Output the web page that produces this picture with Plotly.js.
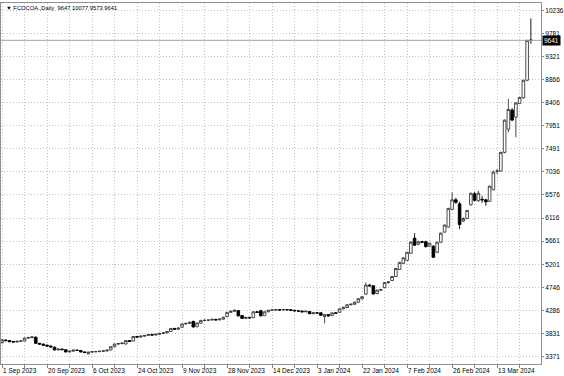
<!DOCTYPE html>
<html><head><meta charset="utf-8">
<script src="https://cdn.plot.ly/plotly-3.0.1.min.js"></script>
<style>html,body{margin:0;padding:0;background:#fff}#chart{width:564px;height:376px}</style>
</head><body><div id="chart"></div>
<script>
const dates = [
"2023-09-01","2023-09-05","2023-09-06","2023-09-07","2023-09-08","2023-09-11","2023-09-12","2023-09-13","2023-09-14","2023-09-15",
"2023-09-18","2023-09-19","2023-09-20","2023-09-21","2023-09-22","2023-09-25","2023-09-26","2023-09-27","2023-09-28","2023-09-29",
"2023-10-02","2023-10-03","2023-10-04","2023-10-05","2023-10-06","2023-10-09","2023-10-10","2023-10-11","2023-10-12","2023-10-13",
"2023-10-16","2023-10-17","2023-10-18","2023-10-19","2023-10-20","2023-10-23","2023-10-24","2023-10-25","2023-10-26","2023-10-27",
"2023-10-30","2023-10-31","2023-11-01","2023-11-02","2023-11-03","2023-11-06","2023-11-07","2023-11-08","2023-11-09","2023-11-10",
"2023-11-13","2023-11-14","2023-11-15","2023-11-16","2023-11-17","2023-11-20","2023-11-21","2023-11-22","2023-11-24","2023-11-27",
"2023-11-28","2023-11-29","2023-11-30","2023-12-01","2023-12-04","2023-12-05","2023-12-06","2023-12-07","2023-12-08","2023-12-11",
"2023-12-12","2023-12-13","2023-12-14","2023-12-15","2023-12-18","2023-12-19","2023-12-20","2023-12-21","2023-12-22","2023-12-26",
"2023-12-27","2023-12-28","2023-12-29","2024-01-02","2024-01-03","2024-01-04","2024-01-05","2024-01-08","2024-01-09","2024-01-10",
"2024-01-11","2024-01-12","2024-01-16","2024-01-17","2024-01-18","2024-01-19","2024-01-22","2024-01-23","2024-01-24","2024-01-25",
"2024-01-26","2024-01-29","2024-01-30","2024-01-31","2024-02-01","2024-02-02","2024-02-05","2024-02-06","2024-02-07","2024-02-08",
"2024-02-09","2024-02-12","2024-02-13","2024-02-14","2024-02-15","2024-02-16","2024-02-20","2024-02-21","2024-02-22","2024-02-23",
"2024-02-26","2024-02-27","2024-02-28","2024-02-29","2024-03-01","2024-03-04","2024-03-05","2024-03-06","2024-03-07","2024-03-08",
"2024-03-11","2024-03-12","2024-03-13","2024-03-14","2024-03-15","2024-03-18","2024-03-19","2024-03-20","2024-03-21","2024-03-22",
"2024-03-25","2024-03-26"];

const openP = [
3650,3700,3690,3668,3662,3675,3682,3740,3748,3758,
3635,3620,3600,3582,3560,3505,3522,3510,3465,3480,
3500,3495,3465,3430,3462,3470,3472,3478,3485,3505,
3568,3620,3632,3622,3690,3680,3770,3760,3778,3792,
3810,3800,3815,3832,3842,3870,3930,3915,3955,4020,
4030,4070,3965,4035,4090,4092,4097,4110,4100,4115,
4165,4250,4270,4285,4185,4130,4150,4145,4260,4280,
4185,4260,4290,4296,4302,4295,4306,4300,4290,4280,
4275,4260,4268,4222,4240,4240,4165,4205,4185,4240,
4250,4320,4345,4400,4410,4450,4520,4610,4790,4775,
4620,4690,4740,4840,4880,4960,5100,5220,5280,5420,
5720,5600,5650,5650,5560,5560,5440,5640,5840,5940,
6290,6480,6400,6060,6110,6380,6600,6460,6490,6480,
6450,6680,7050,7050,7420,7880,8260,8120,8390,8500,
8850,9647];

const highP = [
3725,3715,3700,3685,3690,3695,3750,3765,3775,3770,
3645,3630,3610,3595,3570,3535,3530,3515,3490,3510,
3515,3500,3475,3470,3480,3485,3490,3495,3510,3575,
3630,3645,3650,3700,3700,3780,3785,3790,3800,3820,
3825,3830,3845,3855,3880,3940,3945,3950,4030,4045,
4065,4085,4050,4100,4105,4110,4125,4120,4130,4165,
4260,4285,4305,4295,4195,4160,4160,4270,4275,4300,
4270,4300,4310,4315,4315,4320,4315,4310,4300,4290,
4285,4285,4275,4250,4255,4250,4215,4215,4245,4255,
4330,4360,4410,4425,4460,4530,4570,4840,4810,4790,
4700,4715,4850,4870,4970,5130,5250,5340,5450,5660,
5820,5670,5670,5670,5630,5580,5650,5830,5990,6320,
6630,6520,6440,6130,6280,6620,6640,6660,6560,6500,
6760,7060,7090,7430,8070,8480,8300,8420,8520,8860,
9650,10077];

const lowP = [
3630,3675,3660,3650,3655,3665,3675,3730,3740,3625,
3605,3590,3570,3555,3495,3495,3500,3455,3455,3470,
3485,3455,3440,3415,3450,3455,3460,3465,3475,3500,
3560,3610,3615,3615,3660,3675,3745,3750,3765,3780,
3790,3795,3805,3820,3835,3860,3905,3910,3945,4005,
4020,3950,3955,4025,4075,4080,4090,4085,4095,4110,
4155,4240,4260,4170,4120,4115,4125,4140,4235,4170,
4180,4255,4280,4285,4285,4290,4290,4280,4270,4265,
4250,4255,4215,4215,4225,4185,4030,4165,4180,4220,
4245,4310,4335,4390,4400,4440,4505,4600,4760,4600,
4610,4675,4735,4820,4870,4950,5090,5210,5270,5410,
5570,5580,5620,5540,5545,5330,5430,5630,5830,5930,
6280,6400,5900,6040,6100,6370,6450,6440,6420,6360,
6440,6670,6990,7040,7400,7820,8040,7720,8380,8480,
8830,9573];

const closeP = [
3705,3690,3668,3662,3675,3682,3740,3748,3762,3635,
3620,3600,3582,3565,3505,3522,3510,3465,3480,3500,
3495,3465,3455,3462,3470,3472,3478,3485,3500,3568,
3620,3632,3640,3690,3672,3770,3760,3778,3792,3810,
3800,3815,3832,3842,3870,3930,3915,3938,4020,4030,
4052,3960,4040,4090,4092,4097,4110,4100,4115,4150,
4250,4270,4290,4180,4130,4150,4140,4260,4250,4180,
4260,4290,4296,4302,4295,4306,4300,4290,4280,4275,
4260,4270,4222,4240,4235,4192,4205,4180,4240,4232,
4320,4350,4400,4410,4450,4520,4560,4790,4775,4615,
4690,4700,4840,4852,4960,5120,5240,5330,5440,5640,
5580,5650,5640,5550,5620,5340,5640,5820,5980,6310,
6480,6430,5990,6110,6270,6610,6470,6610,6480,6440,
6750,7030,7050,7420,8060,8270,8060,8400,8510,8850,
9640,9641];

const yTickValues = [3371,3831,4286,4746,5201,5661,6116,6576,7036,7491,7951,8406,8866,9321,9781,10236];
const yTickLabels = ["3371","3831","4286","4746","5201","5661","6116","6576","7036","7491","7951","8406","8866","9321","9781","10236"];
const xTickLabels = ["1 Sep 2023","","20 Sep 2023","","6 Oct 2023","","24 Oct 2023","","9 Nov 2023","","28 Nov 2023","",
"14 Dec 2023","","3 Jan 2024","","22 Jan 2024","","7 Feb 2024","","26 Feb 2024","","13 Mar 2024",""];
const symbolTitle = "\u25BC FCOCOA.,Daily  9647 10077 9573 9641";
const lastPrice = 9641;
const lastPriceLabel = "9641";

const xTickVals = xTickLabels.map((t, k) => dates[k * 6]);

const fam = "Liberation Sans, Arial, sans-serif";
const tickFont = {family: fam, size: 6.5, color: "#000"};

const trace = {
  type: "candlestick",
  x: dates, open: openP, high: highP, low: lowP, close: closeP,
  increasing: {line: {color: "#3a3a3a", width: 0.9}, fillcolor: "#ffffff"},
  decreasing: {line: {color: "#000", width: 0.9}, fillcolor: "#000000"},
  whiskerwidth: 0,
  hoverinfo: "skip"
};

const layout = {
  width: 564, height: 376,
  margin: {l: 1, r: 23, t: 3, b: 12, pad: 0},
  paper_bgcolor: "#ffffff", plot_bgcolor: "#ffffff",
  showlegend: false,
  boxgap: 0,
  font: tickFont,
  xaxis: {
    type: "category", range: [-0.27, 143.7],
    tickmode: "array", tickvals: xTickVals, ticktext: xTickLabels,
    ticks: "outside", ticklen: 3, tickcolor: "#808080",
    ticklabelposition: "outside right", ticklabelstandoff: 0,
    showgrid: true, gridcolor: "#c4c4c4", griddash: "1px,2px", gridwidth: 1,
    showline: true, linecolor: "#909090", linewidth: 1, mirror: true,
    zeroline: false, tickfont: tickFont, tickangle: 0,
    rangeslider: {visible: false}, fixedrange: true
  },
  yaxis: {
    side: "right", range: [3226, 10381],
    tickmode: "array", tickvals: yTickValues, ticktext: yTickLabels,
    ticks: "outside", ticklen: 2, tickcolor: "#808080",
    showgrid: true, gridcolor: "#c4c4c4", griddash: "1px,2px", gridwidth: 1,
    showline: true, linecolor: "#909090", linewidth: 1, mirror: true,
    zeroline: false, tickfont: tickFont, fixedrange: true
  },
  shapes: [{type: "line", xref: "paper", x0: 0, x1: 1, yref: "y", y0: lastPrice, y1: lastPrice,
            line: {color: "#a0a0a0", width: 1}}],
  annotations: [
    {xref: "paper", yref: "paper", x: 0, y: 1, xanchor: "left", yanchor: "top", xshift: 3, yshift: 0,
     text: symbolTitle, showarrow: false, font: {family: fam, size: 5.8, color: "#000"}},
    {xref: "paper", yref: "y", x: 1, y: lastPrice, xanchor: "left", yanchor: "middle", xshift: 1,
     text: lastPriceLabel, showarrow: false, bgcolor: "#000000", borderpad: 1,
     font: {family: fam, size: 6.5, color: "#ffffff"}}
  ]
};

Plotly.newPlot("chart", [trace], layout, {displayModeBar: false, staticPlot: true});
</script></body></html>
